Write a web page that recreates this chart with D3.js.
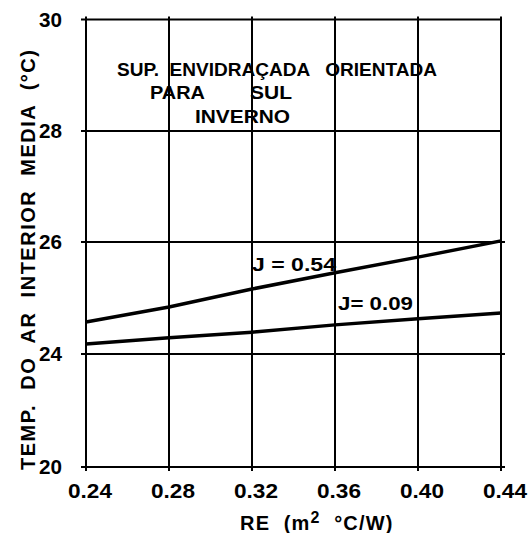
<!DOCTYPE html>
<html><head><meta charset="utf-8">
<script src="https://cdn.jsdelivr.net/npm/d3@7"></script>
<style>body{margin:0;background:#fff}svg{display:block}text{font-family:"Liberation Sans",Arial,sans-serif;font-weight:bold;fill:#000;white-space:pre}</style>
</head><body><svg id="c" width="530" height="533"></svg>
<script>
const xTicks = [0.24, 0.28, 0.32, 0.36, 0.40, 0.44];
const xTickLabels = ["0.24", "0.28", "0.32", "0.36", "0.40", "0.44"];
const yTicks = [20, 24, 26, 28, 30];
const yTickLabels = ["20", "24", "26", "28", "30"];
const reValues = [0.24, 0.28, 0.32, 0.36, 0.40, 0.44];
const seriesJ054 = [24.57, 24.84, 25.16, 25.45, 25.73, 26.02];
const seriesJ009 = [24.18, 24.29, 24.39, 24.52, 24.63, 24.73];
const seriesNames = ["J = 0.54", "J= 0.09"];

const svg = d3.select("#c");
const x = d3.scaleLinear().domain([0.24, 0.44]).range([86, 501]);
const y = d3.scaleLinear().domain(yTicks).range([467, 354, 242, 131, 19.5]);

// vertical gridlines
svg.append("g").selectAll("line").data(xTicks).join("line")
  .attr("x1", d => x(d)).attr("x2", d => x(d))
  .attr("y1", y(30) - 3).attr("y2", y(20) + 4)
  .attr("stroke", "#000").attr("stroke-width", 2);
// horizontal gridlines
svg.append("g").selectAll("line").data(yTicks).join("line")
  .attr("x1", x(0.24) - 5).attr("x2", d => (d === 26 || d === 24 || d === 20) ? x(0.44) + 4 : x(0.44))
  .attr("y1", d => y(d)).attr("y2", d => y(d))
  .attr("stroke", "#000").attr("stroke-width", 2);

// y tick labels
svg.append("g").selectAll("text").data(yTicks).join("text")
  .attr("x", 62).attr("y", d => y(d) + 7)
  .attr("text-anchor", "end").attr("font-size", 20)
  .attr("textLength", 23).attr("lengthAdjust", "spacingAndGlyphs")
  .text((d, i) => yTickLabels[i]);
// x tick labels
svg.append("g").selectAll("text").data(xTicks).join("text")
  .attr("x", d => x(d) + 4).attr("y", 498)
  .attr("text-anchor", "middle").attr("font-size", 21)
  .attr("textLength", 44).attr("lengthAdjust", "spacingAndGlyphs")
  .text((d, i) => xTickLabels[i]);

// lines
const line = d3.line().x((d, i) => x(reValues[i])).y(d => y(d));
[seriesJ054, seriesJ009].forEach(s => {
  svg.append("path").attr("d", line(s)).attr("fill", "none")
    .attr("stroke", "#000").attr("stroke-width", 3.5);
});
svg.append("text").attr("x", 252).attr("y", 271).attr("font-size", 19)
  .attr("textLength", 84).attr("lengthAdjust", "spacingAndGlyphs").text(seriesNames[0]);
svg.append("text").attr("x", 338).attr("y", 310).attr("font-size", 19)
  .attr("textLength", 75).attr("lengthAdjust", "spacingAndGlyphs").text(seriesNames[1]);

// annotation
svg.append("text").attr("x", 117).attr("y", 76).attr("font-size", 19)
  .attr("textLength", 320).attr("lengthAdjust", "spacingAndGlyphs").text("SUP.  ENVIDRAÇADA   ORIENTADA");
svg.append("text").attr("x", 150).attr("y", 99).attr("font-size", 19)
  .attr("textLength", 55).attr("lengthAdjust", "spacingAndGlyphs").text("PARA");
svg.append("text").attr("x", 250).attr("y", 99).attr("font-size", 19)
  .attr("textLength", 42).attr("lengthAdjust", "spacingAndGlyphs").text("SUL");
svg.append("text").attr("x", 195).attr("y", 123).attr("font-size", 19)
  .attr("textLength", 95).attr("lengthAdjust", "spacingAndGlyphs").text("INVERNO");

// axis titles
svg.append("text").attr("transform", "translate(35,260) rotate(-90)")
  .attr("text-anchor", "middle").attr("font-size", 20)
  .attr("textLength", 420).attr("lengthAdjust", "spacing")
  .text("TEMP.  DO  AR  INTERIOR  MEDIA  (°C)");
const xt = svg.append("text").attr("x", 240).attr("y", 530).attr("font-size", 20)
  .attr("letter-spacing", 1.2);
xt.append("tspan").text("RE  (m");
xt.append("tspan").attr("dy", -7).attr("font-size", 16).text("2");
xt.append("tspan").attr("dy", 7).text("  °C/W)");
</script></body></html>
